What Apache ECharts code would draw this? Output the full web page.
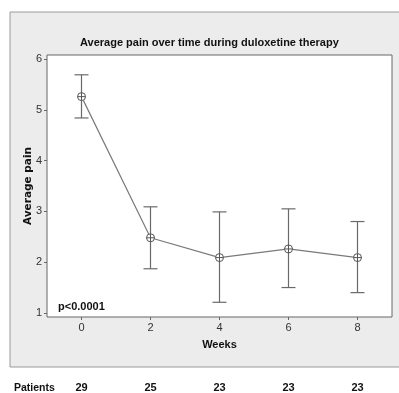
<!DOCTYPE html>
<html><head><meta charset="utf-8">
<script src="https://cdn.jsdelivr.net/npm/echarts@6/dist/echarts.min.js"></script>
<style>html,body{margin:0;padding:0;background:#fff}#c{width:399px;height:393px}</style>
</head><body><div id="c"></div>
<script>
const weeks = [0, 2, 4, 6, 8];
const meanPain = [5.26, 2.48, 2.09, 2.26, 2.09];
const upperCI = [5.69, 3.09, 2.99, 3.05, 2.80];
const lowerCI = [4.84, 1.87, 1.21, 1.50, 1.40];
const patients = [29, 25, 23, 23, 23];
const yTicks = [1, 2, 3, 4, 5, 6];
const xTicks = [0, 2, 4, 6, 8];

const narrow = '"Liberation Sans", Arial, sans-serif';
const chart = echarts.init(document.getElementById('c'), null, {renderer: 'canvas'});
const pts = weeks.map((w, i) => [w, meanPain[i], lowerCI[i], upperCI[i]]);
const patientMap = {};
weeks.forEach((w, i) => patientMap[w] = patients[i]);

chart.setOption({
  animation: false,
  backgroundColor: '#fff',
  graphic: [
    {type: 'rect', z: -10, shape: {x: 10, y: 12, width: 395, height: 355},
     style: {fill: '#ececec', stroke: '#9a9a9a', lineWidth: 1}},
    {type: 'text', left: 14, top: 383,
     style: {text: 'Patients', font: 'bold 10.5px ' + narrow, fill: '#111'}},
    {type: 'text', left: 58, top: 301,
     style: {text: 'p<0.0001', font: 'bold 11px ' + narrow, fill: '#111'}}
  ],
  title: {
    text: 'Average pain over time during duloxetine therapy',
    left: 75, top: 32,
    textStyle: {fontFamily: narrow, fontSize: 11, fontWeight: 'bold', color: '#111'}
  },
  grid: {left: 47, top: 55, right: 7, bottom: 74, show: true, backgroundColor: '#fff',
         borderColor: '#666', borderWidth: 1, containLabel: false},
  xAxis: [{
    type: 'value', min: -1, max: 9,
    name: 'Weeks', nameLocation: 'middle', nameGap: 22,
    nameTextStyle: {fontFamily: narrow, fontSize: 11, fontWeight: 'bold', color: '#111'},
    axisLine: {show: false, onZero: false},
    axisTick: {show: true, length: 3, customValues: xTicks, lineStyle: {color: '#666'}},
    axisLabel: {customValues: xTicks, fontFamily: narrow, fontSize: 11, color: '#333', margin: 5},
    splitLine: {show: false}
  }, {
    type: 'value', min: -1, max: 9, position: 'bottom', offset: 65,
    axisLine: {show: false, onZero: false}, axisTick: {show: false}, splitLine: {show: false},
    axisLabel: {customValues: weeks, margin: 0, fontFamily: narrow, fontSize: 11, fontWeight: 'bold', color: '#111',
                formatter: v => String(patientMap[v])}
  }],
  yAxis: {
    type: 'value', min: 0.92, max: 6.08,
    name: 'Average pain', nameLocation: 'middle', nameGap: 13, nameRotate: 90, nameMoveOverlap: false,
    nameTextStyle: {fontFamily: '"DejaVu Sans", sans-serif', fontSize: 10.5, fontWeight: 'bold', color: '#111'},
    axisLine: {show: false, onZero: false},
    axisTick: {show: true, length: 3, customValues: yTicks, lineStyle: {color: '#666'}},
    axisLabel: {customValues: yTicks, fontFamily: narrow, fontSize: 11, color: '#333', margin: 5},
    splitLine: {show: false}
  },
  series: [{
    type: 'line', data: weeks.map((w, i) => [w, meanPain[i]]), symbol: 'none',
    lineStyle: {color: '#7a7a7a', width: 1.2}, z: 2
  }, {
    type: 'custom', data: pts, z: 3,
    renderItem: function (params, api) {
      const x = api.value(0);
      const m = api.coord([x, api.value(1)]);
      const lo = api.coord([x, api.value(2)]);
      const hi = api.coord([x, api.value(3)]);
      const cw = 7, r = 4;
      const st = {stroke: '#6a6a6a', lineWidth: 1.2, fill: null};
      return {type: 'group', children: [
        {type: 'line', shape: {x1: hi[0], y1: hi[1], x2: lo[0], y2: lo[1]}, style: st},
        {type: 'line', shape: {x1: hi[0] - cw, y1: hi[1], x2: hi[0] + cw, y2: hi[1]}, style: st},
        {type: 'line', shape: {x1: lo[0] - cw, y1: lo[1], x2: lo[0] + cw, y2: lo[1]}, style: st},
        {type: 'circle', shape: {cx: m[0], cy: m[1], r: r}, style: {stroke: '#555', lineWidth: 1, fill: '#fff'}},
        {type: 'line', shape: {x1: m[0] - r, y1: m[1], x2: m[0] + r, y2: m[1]}, style: {stroke: '#555', lineWidth: 1}},
        {type: 'line', shape: {x1: m[0], y1: m[1] - r, x2: m[0], y2: m[1] + r}, style: {stroke: '#555', lineWidth: 1}}
      ]};
    }
  }]
});
</script></body></html>
